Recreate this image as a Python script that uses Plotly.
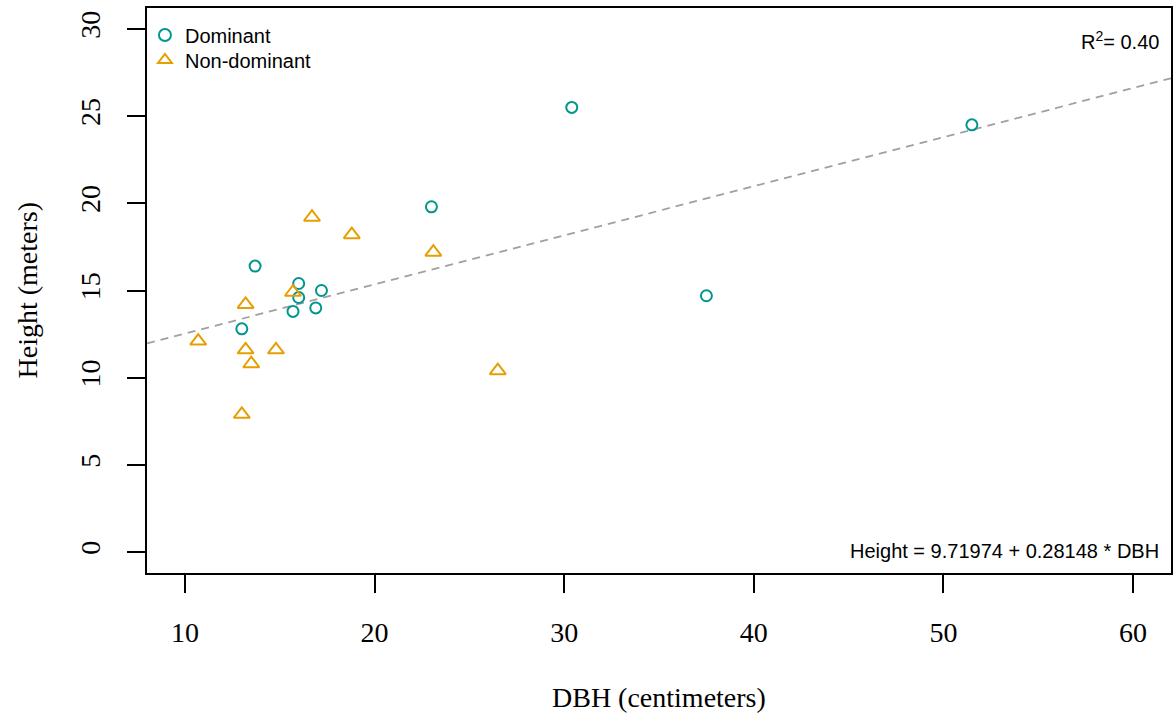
import plotly.graph_objects as go

# Data
dom_dbh = [30.4, 51.5, 23.0, 13.7, 16.0, 17.2, 16.0, 37.5, 15.7, 16.9, 13.0]
dom_height = [25.5, 24.5, 19.8, 16.4, 15.4, 15.0, 14.6, 14.7, 13.8, 14.0, 12.8]

nondom_dbh = [16.7, 18.8, 23.1, 15.7, 13.2, 10.7, 13.2, 14.8, 13.5, 26.5, 13.0]
nondom_height = [19.2, 18.2, 17.2, 14.9, 14.2, 12.1, 11.6, 11.6, 10.8, 10.4, 7.9]

intercept = 9.71974
slope = 0.28148
r_squared = 0.40

x_range = [8, 62]
y_range = [-1.2, 31.2]
x_ticks = [10, 20, 30, 40, 50, 60]
y_ticks = [0, 5, 10, 15, 20, 25, 30]

teal = "#00968F"
orange = "#E69F00"

fig = go.Figure()

# regression line across the full x range
fig.add_trace(go.Scatter(
    x=x_range, y=[intercept + slope * v for v in x_range],
    mode="lines", line=dict(color="#A0A0A0", width=1.8, dash="8px,6px"),
    showlegend=False, hoverinfo="skip"))

fig.add_trace(go.Scatter(
    x=dom_dbh, y=dom_height, mode="markers", name="Dominant", legend="legend",
    marker=dict(symbol="circle-open", size=11, color=teal, line=dict(width=2, color=teal))))
fig.add_trace(go.Scatter(
    x=nondom_dbh, y=nondom_height, mode="markers", name="Non-dominant", legend="legend2",
    marker=dict(symbol="triangle-up-open", size=14, color=orange, line=dict(width=2, color=orange))))

serif = "Liberation Serif, Times New Roman, serif"
sans = "Liberation Sans, Arial, sans-serif"

leg_common = dict(xanchor="left", yanchor="middle", x=-0.002,
                  font=dict(family=sans, size=20, color="black"),
                  bgcolor="rgba(0,0,0,0)", itemsizing="constant", itemwidth=30)

fig.update_layout(
    width=1176, height=721,
    margin=dict(l=147, r=3, t=8, b=148),
    paper_bgcolor="white", plot_bgcolor="white",
    showlegend=True,
    legend=dict(y=1 - (35 - 8) / 565, **leg_common),
    legend2=dict(y=1 - (60 - 8) / 565, **leg_common),
    xaxis=dict(range=x_range, tickvals=x_ticks, showgrid=False, zeroline=False,
               showline=True, linecolor="black", linewidth=1.5, mirror=True,
               ticks="outside", ticklen=18, tickwidth=1.5, tickcolor="black",
               tickfont=dict(family=serif, size=28, color="black"),
               ticklabelstandoff=16),
    yaxis=dict(range=y_range, tickvals=y_ticks, showgrid=False, zeroline=False,
               showline=True, linecolor="black", linewidth=1.5, mirror=True,
               ticks="outside", ticklen=18, tickwidth=1.5, tickcolor="black",
               tickangle=-90,
               tickfont=dict(family=serif, size=28, color="black"),
               ticklabelstandoff=16),
    annotations=[
        dict(text="DBH (centimeters)", xref="paper", yref="paper", x=0.5, y=0,
             xanchor="center", yanchor="middle", yshift=-124, showarrow=False,
             font=dict(family=serif, size=28, color="black")),
        dict(text="Height (meters)", xref="paper", yref="paper", x=0, y=0.5,
             xanchor="center", yanchor="middle", xshift=-120, textangle=-90,
             showarrow=False, font=dict(family=serif, size=28, color="black")),
        dict(text="R<sup>2</sup>= %.2f" % r_squared, xref="paper", yref="paper", x=1, y=1,
             xanchor="right", yanchor="middle", xshift=-10, yshift=-32, showarrow=False,
             font=dict(family=sans, size=20, color="black")),
        dict(text="Height = %.5f + %.5f * DBH" % (intercept, slope), xref="paper", yref="paper",
             x=1, y=0, xanchor="right", yanchor="middle", xshift=-10, yshift=22,
             showarrow=False, font=dict(family=sans, size=20, color="black")),
    ],
)

fig.write_html("out.html", config={"displayModeBar": False},
               post_script="document.body.style.margin='0';document.body.style.overflow='hidden';")
